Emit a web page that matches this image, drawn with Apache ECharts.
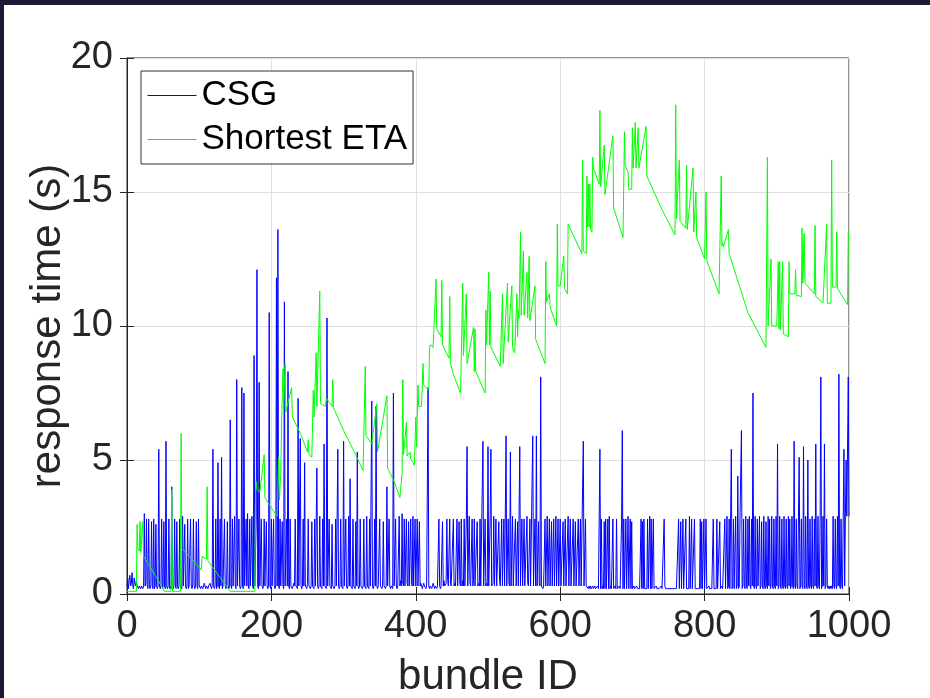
<!DOCTYPE html>
<html><head><meta charset="utf-8">
<script src="https://cdn.jsdelivr.net/npm/echarts@6/dist/echarts.min.js"></script>
<style>
html,body{margin:0;padding:0;background:#fff;}
#wrap{position:relative;width:930px;height:698px;overflow:hidden;}
#chart{position:absolute;left:0;top:0;width:930px;height:698px;}
.fr{position:absolute;background:#1c1b33;z-index:5;}
</style>
</head><body>
<div id="wrap"><div id="chart"></div>
<div class="fr" style="left:0;top:0;width:930px;height:5px"></div>
<div class="fr" style="left:0;top:0;width:4px;height:698px"></div></div>
<script>
// CSG response time, one value per bundle ID (0..1000)
const csgValues = [
0.3,0.6,0.2,0.5,0.7,0.3,0.4,0.8,0.3,0.2,0.6,0.4,0.3,0.5,0.3,0.3,0.2,0.3,0.3,0.2,0.3,0.3,0.2,0.3,3.0,0.3,0.4,2.8,0.3,0.2,2.8,0.3,0.2,0.3,2.7,0.3,0.2,2.8,0.2,0.3,2.6,0.3,0.2,0.3,5.4,0.3,0.2,0.3,2.8,0.2,
0.3,2.7,0.3,0.2,5.7,0.3,0.2,0.3,2.8,0.2,0.3,0.2,4.0,0.3,0.2,0.3,2.8,0.3,0.2,2.7,0.3,0.2,0.3,2.8,0.3,0.3,0.2,2.9,0.3,0.3,2.6,0.3,0.2,0.3,2.8,0.2,0.3,0.3,2.8,0.3,0.2,0.3,2.8,0.3,0.2,0.3,2.7,0.3,0.2,2.8,
0.3,0.3,0.2,0.3,0.3,0.2,0.3,0.4,0.3,0.2,0.3,0.3,0.2,0.3,0.3,0.4,0.3,0.2,0.3,5.4,0.3,0.2,0.3,2.8,0.2,0.3,4.9,0.3,0.2,2.8,0.3,5.1,0.2,0.3,0.3,2.8,0.3,0.2,0.3,2.7,0.3,0.2,0.3,6.5,0.3,0.2,2.8,0.3,0.3,2.9,
0.3,0.2,8.0,0.3,0.3,2.8,0.3,0.2,0.3,7.7,0.3,0.2,7.5,0.3,0.3,2.8,0.3,3.0,0.3,0.2,2.8,0.3,0.3,2.9,0.3,0.2,8.9,0.3,0.3,2.8,12.1,0.3,0.2,7.9,0.3,0.3,2.8,0.3,0.2,0.3,2.8,0.3,0.3,2.7,0.3,0.2,0.3,10.5,0.3,0.2,
2.8,0.3,0.3,2.8,0.3,0.2,0.3,11.8,0.3,13.6,0.3,0.2,2.8,0.3,0.3,2.7,0.3,0.2,10.9,0.3,0.3,2.8,0.3,8.3,0.3,0.2,2.8,0.3,0.3,0.2,0.3,0.4,0.3,2.8,0.3,0.3,0.2,7.3,0.3,0.3,5.8,0.3,0.2,0.3,2.8,0.3,4.9,0.3,0.3,0.2,
0.4,2.8,0.3,0.3,0.2,0.3,2.7,0.3,0.3,0.2,2.8,0.3,0.3,4.7,0.3,0.2,0.3,2.9,0.3,0.3,0.2,2.8,0.3,5.6,0.3,0.3,0.2,10.3,0.3,0.3,2.8,0.3,0.3,0.2,2.6,0.3,0.3,0.2,0.3,2.8,0.3,0.3,5.4,0.3,0.2,0.3,2.8,0.3,0.3,0.2,
5.7,0.3,0.3,2.8,0.3,0.2,0.3,2.9,0.3,4.3,0.3,0.3,0.2,2.8,0.3,0.3,0.2,2.7,0.3,5.3,0.3,0.2,0.3,2.8,0.3,0.3,0.2,0.3,2.8,0.3,0.3,0.2,2.9,0.3,0.3,0.2,2.8,0.3,0.3,7.2,0.3,0.2,0.3,2.8,0.3,7.0,0.3,0.2,0.3,0.3,
2.8,0.3,0.3,0.2,0.3,2.7,0.3,0.3,0.2,0.3,4.0,0.3,0.3,2.8,0.3,0.2,0.3,0.3,0.2,7.5,0.3,0.3,2.8,0.3,0.2,0.3,0.3,2.9,0.3,0.5,0.3,3.0,0.4,0.3,2.8,0.3,0.3,2.8,0.4,0.3,2.7,0.3,0.3,2.8,0.4,0.3,2.9,0.3,0.3,2.8,
0.3,0.3,2.8,0.3,0.3,2.7,0.3,0.4,0.3,0.2,0.3,0.4,0.3,0.3,0.2,0.3,0.3,7.7,0.3,0.2,0.3,0.3,0.2,0.3,0.4,0.3,0.2,0.3,0.3,0.2,0.3,0.3,2.8,0.3,0.2,0.3,0.3,2.7,0.3,0.5,0.3,0.3,0.4,2.8,0.6,0.3,0.3,2.8,0.4,0.3,
0.3,0.3,2.8,0.3,0.4,0.3,0.3,2.8,0.3,0.3,2.7,0.4,0.3,2.8,0.3,0.5,0.3,2.8,0.3,0.3,2.8,5.5,0.3,0.3,2.9,0.4,0.3,0.3,2.8,0.3,0.5,2.8,0.3,0.3,0.3,2.7,0.3,0.4,0.3,2.8,0.3,0.3,0.3,5.7,0.3,0.3,2.8,0.3,0.4,0.3,
5.5,0.3,0.3,2.8,5.4,0.3,0.3,0.4,2.9,0.3,0.3,2.8,0.3,0.3,0.3,2.7,0.5,0.3,0.3,2.8,0.3,0.3,2.8,0.3,0.3,5.9,0.3,0.3,2.8,0.4,0.3,5.3,0.3,0.3,2.9,0.3,0.3,0.3,2.8,0.3,0.3,2.7,0.3,0.3,5.5,0.3,0.3,2.8,0.3,0.3,
2.8,0.3,0.3,0.3,2.9,0.4,0.3,0.3,2.8,0.3,0.3,0.3,5.9,0.3,0.3,2.8,0.3,5.9,0.3,0.3,2.7,0.4,0.3,8.1,0.3,0.3,0.2,0.3,0.3,2.8,0.3,0.3,2.9,0.3,0.3,2.8,0.3,0.3,2.7,0.3,0.3,2.8,0.3,0.3,2.9,0.3,0.3,2.8,0.3,0.3,
2.8,0.3,0.3,0.3,2.7,0.3,0.3,2.8,0.3,0.3,0.3,2.9,0.3,0.3,2.8,0.3,0.3,0.3,2.8,0.3,0.3,2.7,0.3,0.3,0.3,2.8,0.3,0.3,2.8,0.3,0.3,0.3,5.7,0.3,0.3,2.8,0.3,0.3,0.3,0.2,0.3,0.2,0.3,0.2,0.2,0.3,0.2,0.2,0.3,0.2,
0.2,0.2,0.3,0.2,0.2,5.4,0.2,2.8,0.2,0.3,0.2,2.7,0.2,2.8,0.2,0.2,2.8,0.2,2.9,0.2,0.3,0.2,0.2,2.8,0.2,0.2,0.3,0.2,2.8,0.2,0.2,0.2,0.3,0.2,0.2,2.7,6.1,0.2,2.8,0.2,0.2,2.8,0.2,0.2,2.9,0.2,0.2,2.8,0.2,2.7,
0.2,0.2,0.3,0.2,0.2,0.2,0.3,0.2,0.2,0.2,0.2,0.2,2.8,0.2,2.7,0.2,2.8,0.2,0.2,0.2,0.2,2.8,0.2,0.2,2.9,0.2,2.8,0.2,0.2,2.8,0.2,0.2,0.2,0.3,0.2,0.2,0.2,0.2,0.2,0.2,0.3,0.2,0.2,0.2,2.8,0.3,0.2,0.2,0.2,0.2,
0.2,0.2,0.2,0.2,0.2,0.2,0.2,0.2,0.2,0.2,0.2,0.2,0.2,0.2,2.8,0.2,0.2,2.7,0.2,0.2,2.8,0.2,0.2,0.2,2.8,0.2,0.2,0.2,0.2,2.9,0.2,0.2,2.8,0.2,0.2,0.2,2.8,0.2,0.2,0.2,0.2,0.2,0.2,0.2,2.8,0.2,2.7,0.2,0.2,2.8,
0.2,0.2,2.8,0.2,0.2,0.2,0.3,0.2,0.2,0.2,0.2,0.2,2.8,0.2,0.2,0.2,0.2,2.8,0.2,0.2,0.2,2.7,0.2,0.2,0.3,0.2,0.2,0.2,2.8,0.2,0.2,2.9,0.2,0.3,2.8,0.2,0.2,5.4,0.2,0.3,2.8,0.2,0.2,2.9,0.2,0.3,4.4,0.2,0.3,2.8,
2.8,6.1,0.2,0.3,2.8,0.3,0.2,2.9,0.3,0.2,2.8,0.3,2.9,0.3,0.2,2.8,0.3,7.5,0.3,0.2,2.9,0.3,0.2,2.8,0.3,0.3,2.9,0.2,0.3,2.7,0.3,0.2,2.9,0.3,0.2,2.7,0.3,0.2,2.9,0.3,2.8,0.2,0.3,2.9,0.3,0.2,2.8,0.3,0.2,2.9,
0.3,5.6,0.2,0.3,2.9,0.3,0.2,2.8,0.3,0.2,2.9,0.3,0.2,2.8,0.3,0.2,2.9,0.3,2.8,0.2,0.3,2.9,0.3,0.2,5.7,0.3,0.2,2.8,0.3,0.2,2.9,5.1,0.2,0.3,2.8,0.3,0.2,5.5,0.3,0.2,2.9,0.3,0.2,5.0,0.3,0.2,2.8,0.3,0.2,2.9,
0.3,0.2,2.8,0.3,5.6,0.3,0.2,2.9,0.3,0.2,2.8,8.1,0.2,0.3,2.9,0.3,5.6,0.2,0.3,2.8,0.3,0.2,0.3,0.2,0.3,0.2,0.3,0.2,2.9,0.3,0.2,2.8,0.3,0.2,2.9,0.3,8.2,0.3,0.2,2.8,0.3,0.2,2.9,5.4,0.3,2.9,5.0,2.9,2.9,8.1,
2.9
];

// Shortest ETA response time: vertices (bundle ID, seconds)
const etaIds = [0,13,14,15,17,18,19,21,22,23,30,40,52,61,62,63,74,75,76,90,103,104,110,111,112,124,143,177,178,179,180,184,190,191,200,208,210,211,213,214,216,217,219,220,228,229,240,250,251,252,256,258,259,262,263,267,268,275,276,284,285,286,300,315,327,330,331,339,346,347,360,361,370,378,381,382,383,387,388,392,393,398,400,401,403,404,408,410,411,418,419,420,424,428,429,435,436,437,446,447,448,452,462,465,466,470,471,480,481,482,483,496,497,498,501,502,503,504,517,520,521,527,528,533,534,537,540,541,542,543,545,546,549,550,554,555,557,558,565,566,579,580,581,585,586,595,596,597,600,605,606,610,611,630,631,632,636,637,638,639,640,641,642,644,645,646,654,655,656,661,662,673,674,687,689,690,694,695,699,700,701,704,705,708,709,719,720,740,759,760,761,765,766,774,775,776,784,785,788,789,800,802,803,820,823,824,825,826,833,834,860,885,887,888,892,893,900,902,903,904,905,908,909,916,917,918,925,926,927,934,935,936,938,939,952,953,954,964,969,970,975,976,977,982,983,984,998,999,1000];
const etaValues = [0.1,0.1,2.6,1.7,1.6,2.7,1.55,1.5,2.7,1.4,1.1,0.65,0.1,0.1,3.9,0.1,0.1,6.0,1.7,1.3,0.9,1.4,1.3,4.0,1.25,0.8,0.1,0.1,3.8,4.2,3.9,3.8,5.2,3.6,3.2,2.9,5.1,3.5,4.5,6.2,8.4,6.9,8.6,6.8,7.7,6.6,6.0,5.3,5.75,5.2,5.1,7.6,6.6,9.0,7.0,11.3,7.1,7.0,7.3,7.0,8.0,6.95,6.1,5.3,4.6,8.5,5.9,5.6,7.1,5.3,7.4,4.7,4.2,3.6,4.5,8.0,5.2,6.4,5.15,5.3,5.05,4.8,6.6,5.5,7.8,7.0,7.0,8.6,7.8,7.6,9.2,9.3,9.2,11.75,9.9,9.6,11.7,9.3,8.8,11.1,8.6,8.2,7.5,11.6,8.9,11.2,8.6,9.95,8.3,9.9,8.3,7.5,10.6,9.3,12.0,9.3,11.3,9.2,8.5,11.2,8.6,11.6,9.4,11.5,9.2,9.0,11.2,9.6,10.6,10.3,13.5,10.4,12.8,10.4,12.0,10.3,12.6,10.2,11.5,9.5,8.6,12.4,10.9,11.2,10.7,10.0,13.8,11.5,11.5,12.6,11.4,11.2,13.8,12.7,16.2,12.8,12.7,15.6,13.7,15.3,13.7,15.3,13.6,13.5,16.3,15.9,15.3,18.05,15.2,16.75,14.9,17.1,14.4,13.3,17.25,16.0,15.75,15.1,15.1,17.4,15.9,17.6,15.9,17.4,15.9,17.45,15.6,14.4,13.4,18.25,14.0,16.2,13.9,13.65,16.0,13.6,15.9,13.5,15.0,13.3,12.5,15.0,12.45,11.2,15.6,13.0,13.1,12.95,13.6,12.7,10.5,9.2,16.3,10.0,12.5,10.0,10.0,12.4,9.9,12.4,9.85,12.4,9.7,9.6,12.4,11.2,11.2,12.1,11.15,11.1,13.65,11.6,13.45,11.6,11.2,13.75,11.1,10.85,13.8,10.85,10.85,16.2,11.45,11.45,13.5,11.4,10.8,13.5,13.4];

const xTicks = {min: 0, max: 1000, step: 200};
const yTicks = {min: 0, max: 20, step: 5};
const seriesNames = ['CSG', 'Shortest ETA'];
const seriesColors = ['#0000ff', '#00ff00'];

const FONT = '"Liberation Sans", Arial, Helvetica, sans-serif';
const AX = '#262626';

const csgData = csgValues.map((v, i) => [i, v]);
const etaData = etaIds.map((x, i) => [x, etaValues[i]]);

const chart = echarts.init(document.getElementById('chart'), null, {renderer: 'canvas'});
const tickStyle = {show: true, inside: true, length: 7, lineStyle: {color: AX, width: 1}};
chart.setOption({
  animation: false,
  backgroundColor: '#ffffff',
  grid: {left: 127, top: 58, width: 722, height: 536, outerBoundsMode: 'none', containLabel: false,
         show: true, borderColor: AX, borderWidth: 1, backgroundColor: 'transparent'},
  legend: {
    orient: 'vertical', left: 141, top: 71, padding: [7, 6, 7, 6], itemGap: 9,
    itemWidth: 49, itemHeight: 14,
    backgroundColor: '#ffffff', borderColor: '#333333', borderWidth: 1, borderRadius: 0,
    textStyle: {fontSize: 35, color: '#000000', fontFamily: FONT},
    data: seriesNames.map((n, i) => ({
      name: n,
      itemStyle: {color: 'rgba(0,0,0,0)', borderColor: 'rgba(0,0,0,0)', borderWidth: 0},
      lineStyle: {color: seriesColors[i], width: 1, opacity: 1}
    }))
  },
  xAxis: [{
    type: 'value', min: xTicks.min, max: xTicks.max, interval: xTicks.step,
    name: 'bundle ID', nameLocation: 'middle', nameGap: 62, nameMoveOverlap: false,
    nameTextStyle: {fontSize: 42, color: AX, fontFamily: FONT},
    axisLine: {show: true, lineStyle: {color: AX, width: 1}},
    axisTick: tickStyle,
    axisLabel: {fontSize: 38, color: AX, fontFamily: FONT, margin: 14, formatter: v => String(v)},
    splitLine: {show: true, lineStyle: {color: '#dfdfdf', width: 1}}
  }, {
    type: 'value', position: 'top', min: xTicks.min, max: xTicks.max, interval: xTicks.step,
    axisLine: {show: true, lineStyle: {color: AX, width: 1}},
    axisTick: tickStyle, axisLabel: {show: false}, splitLine: {show: false}
  }],
  yAxis: [{
    type: 'value', min: yTicks.min, max: yTicks.max, interval: yTicks.step,
    name: 'response time (s)', nameLocation: 'middle', nameGap: 58, nameMoveOverlap: false,
    nameTextStyle: {fontSize: 42, color: AX, fontFamily: FONT},
    axisLine: {show: true, lineStyle: {color: AX, width: 1}},
    axisTick: tickStyle,
    axisLabel: {fontSize: 38, color: AX, fontFamily: FONT, margin: 14, formatter: v => String(v)},
    splitLine: {show: true, lineStyle: {color: '#dfdfdf', width: 1}}
  }, {
    type: 'value', position: 'right', min: yTicks.min, max: yTicks.max, interval: yTicks.step,
    axisLine: {show: true, lineStyle: {color: AX, width: 1}},
    axisTick: tickStyle, axisLabel: {show: false}, splitLine: {show: false}
  }],
  series: [{
    name: seriesNames[0], type: 'line', data: csgData, xAxisIndex: 0, yAxisIndex: 0,
    symbol: 'none', showSymbol: false, color: seriesColors[0],
    itemStyle: {color: seriesColors[0]},
    lineStyle: {color: seriesColors[0], width: 1}, emphasis: {disabled: true}
  }, {
    name: seriesNames[1], type: 'line', data: etaData, xAxisIndex: 0, yAxisIndex: 0,
    symbol: 'none', showSymbol: false, color: seriesColors[1],
    itemStyle: {color: seriesColors[1]},
    lineStyle: {color: seriesColors[1], width: 1}, emphasis: {disabled: true}
  }]
});
</script>
</body></html>
